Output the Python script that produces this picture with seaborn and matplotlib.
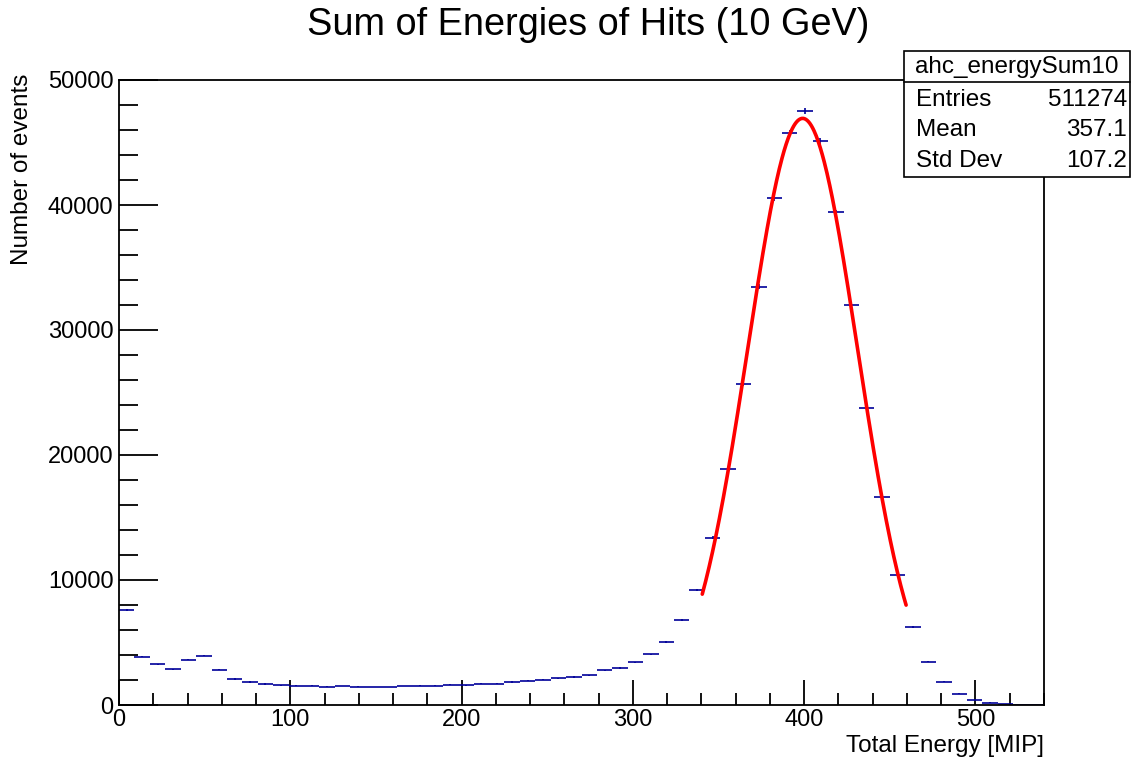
import numpy as np
import pandas as pd
import matplotlib
matplotlib.use("Agg")
import matplotlib.pyplot as plt
import seaborn as sns
from matplotlib.ticker import MultipleLocator
from matplotlib.patches import Rectangle
from matplotlib.lines import Line2D

# ---- data ----
bin_width = 9
bin_edges_start = np.arange(0, 540, bin_width)
counts = [7600, 3870, 3250, 2850, 3630, 3950, 2830, 2080, 1840, 1680,
          1600, 1550, 1550, 1470, 1520, 1470, 1440, 1440, 1520, 1550,
          1550, 1627, 1600, 1707, 1707, 1840, 1947, 2027, 2133, 2240,
          2373, 2773, 2960, 3413, 4053, 5013, 6773, 9200, 13387, 18853,
          25680, 33467, 40560, 45760, 47520, 45120, 39440, 32000, 23760, 16667,
          10427, 6213, 3467, 1867, 907, 400, 187, 80, 27, 20]
fit_amp = 46930
fit_mean = 399.1
fit_sigma = 32.1
fit_range = (340.5, 459.5)

title = "Sum of Energies of Hits (10 GeV)"
xlabel = "Total Energy [MIP]"
ylabel = "Number of events"
stats_name = "ahc_energySum10"
stats_rows = [("Entries", "511274"), ("Mean", "357.1"), ("Std Dev", "107.2")]

# ---- plotting ----
sns.set_theme(style="white")
plt.rcParams['font.family'] = ['Liberation Sans', 'DejaVu Sans']
plt.rcParams['text.color'] = 'black'
plt.rcParams['axes.labelcolor'] = 'black'
plt.rcParams['xtick.color'] = 'black'
plt.rcParams['ytick.color'] = 'black'

fig = plt.figure(figsize=(11.31, 7.61), dpi=100)
ax = fig.add_axes([119/1131, 1 - 705/761, (1044-119)/1131, (705-80)/761])

centers = bin_edges_start + bin_width / 2
df = pd.DataFrame({"x": centers, "y": counts})
ax.errorbar(df["x"], df["y"], xerr=bin_width/2, yerr=np.sqrt(df["y"]),
            fmt='none', ecolor='#000099', elinewidth=1.2, capsize=0)

xf = np.linspace(fit_range[0], fit_range[1], 300)
yf = fit_amp * np.exp(-0.5 * ((xf - fit_mean) / fit_sigma) ** 2)
sns.lineplot(x=xf, y=yf, ax=ax, color='#ff0000', linewidth=2.6, sort=False)

ax.set_xlim(0, 540)
ax.set_ylim(0, 50000)
ax.xaxis.set_major_locator(MultipleLocator(100))
ax.xaxis.set_minor_locator(MultipleLocator(20))
ax.yaxis.set_major_locator(MultipleLocator(10000))
ax.yaxis.set_minor_locator(MultipleLocator(2000))
ax.tick_params(axis='x', which='major', direction='in', length=18, width=1.3,
               labelsize=17, pad=3, bottom=True, top=False, colors='black')
ax.tick_params(axis='x', which='minor', direction='in', length=9, width=1.3,
               bottom=True, top=False, colors='black')
ax.tick_params(axis='y', which='major', direction='in', length=28, width=1.3,
               labelsize=17, pad=4, left=True, right=False, colors='black')
ax.tick_params(axis='y', which='minor', direction='in', length=14, width=1.3,
               left=True, right=False, colors='black')
for s in ax.spines.values():
    s.set_color('black')
    s.set_linewidth(1.3)
ax.grid(False)

fig.text(588/1131, 1 - 25/761, title, ha='center', va='center', fontsize=27.3)
fig.text(1044/1131, 1 - 746/761, xlabel, ha='right', va='center', fontsize=17.5)
fig.text(22/1131, 1 - 74/761, ylabel, ha='center', va='top', rotation=90, fontsize=17.5)

# stats box
bx0, by_top, by_bot, by_sep = 904, 51, 177, 82
bx1 = 1130
rect = Rectangle((bx0/1131, 1 - by_bot/761), (bx1-bx0)/1131, (by_bot-by_top)/761,
                 transform=fig.transFigure, facecolor='white', edgecolor='black',
                 linewidth=1.2, zorder=5)
fig.add_artist(rect)
fig.add_artist(Line2D([bx0/1131, bx1/1131], [1 - by_sep/761, 1 - by_sep/761],
                      transform=fig.transFigure, color='black', linewidth=1.2, zorder=6))
fig.text((bx0+bx1)/2/1131, 1 - 67/761, stats_name, ha='center', va='center',
         fontsize=17.5, zorder=7)
row_y = [100, 130, 161]
for (k, v), yy in zip(stats_rows, row_y):
    fig.text(916/1131, 1 - yy/761, k, ha='left', va='center', fontsize=17.5, zorder=7)
    fig.text(1127/1131, 1 - yy/761, v, ha='right', va='center', fontsize=17.5, zorder=7)

fig.savefig("out.png", dpi=100)
